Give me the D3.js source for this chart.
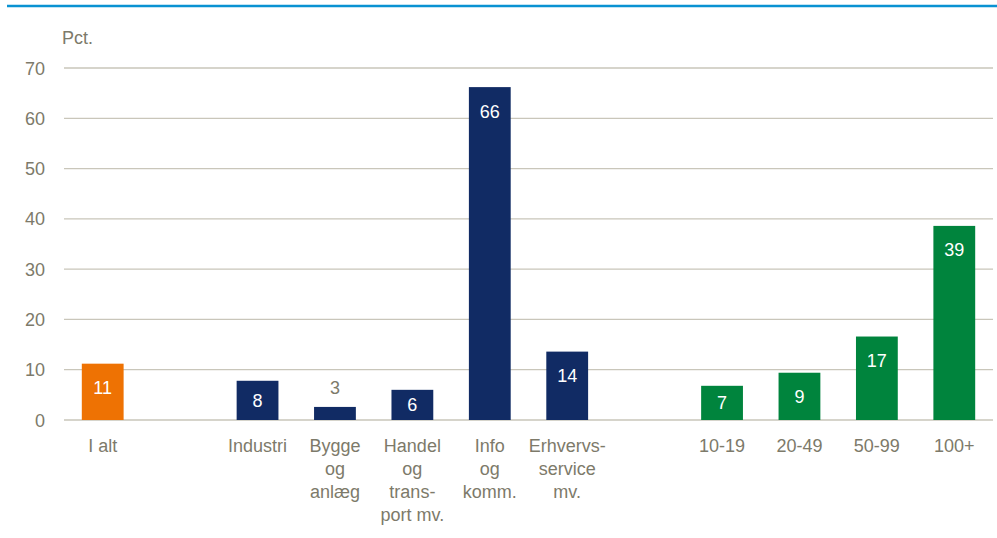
<!DOCTYPE html>
<html>
<head>
<meta charset="utf-8">
<script src="https://cdn.jsdelivr.net/npm/d3@7"></script>
<style>
  body { margin: 0; background: #fff; }
  svg text { font-family: "Liberation Sans Narrow", "Arial Narrow", "Liberation Sans", sans-serif; }
</style>
</head>
<body>
<svg id="chart" width="997" height="538"></svg>
<script>
// slots incl. empty gap slots
const slots = ['I alt', 'gap1', 'Industri', 'Bygge og anlæg', 'Handel og transport mv.', 'Info og komm.', 'Erhvervsservice mv.', 'gap2', '10-19', '20-49', '50-99', '100+'];
const categories = ['I alt', 'Industri', 'Bygge og anlæg', 'Handel og transport mv.', 'Info og komm.', 'Erhvervsservice mv.', '10-19', '20-49', '50-99', '100+'];
const labelLines = [['I alt'], ['Industri'], ['Bygge', 'og', 'anlæg'], ['Handel', 'og', 'trans-', 'port mv.'], ['Info', 'og', 'komm.'], ['Erhvervs-', 'service', 'mv.'], ['10-19'], ['20-49'], ['50-99'], ['100+']];
const values = [11.2, 7.8, 2.6, 6.0, 66.2, 13.6, 6.8, 9.4, 16.6, 38.6];
const groups = ['total', 'branche', 'branche', 'branche', 'branche', 'branche', 'size', 'size', 'size', 'size'];
const yTicks = [0, 10, 20, 30, 40, 50, 60, 70];

const colors = { total: '#ee7203', branche: '#112b64', size: '#00843d' };
const textColor = '#7d7a6a';

const svg = d3.select('#chart');

// top rule
svg.append('line')
  .attr('x1', 7).attr('x2', 997)
  .attr('y1', 6).attr('y2', 6)
  .attr('stroke', '#0a92d2').attr('stroke-width', 2.5);

const x = d3.scaleBand().domain(slots).range([64, 993]).paddingInner(0.46).paddingOuter(0.23);
const y = d3.scaleLinear().domain([0, 70]).range([420, 68]);

// grid
svg.append('g').selectAll('line')
  .data(yTicks)
  .enter().append('line')
  .attr('x1', 64).attr('x2', 993)
  .attr('y1', (d) => y(d)).attr('y2', (d) => y(d))
  .attr('stroke', '#c9c6ba').attr('stroke-width', 1.3);

svg.append('g').selectAll('text')
  .data(yTicks)
  .enter().append('text')
  .attr('x', 45)
  .attr('y', (d) => y(d) + 6.5)
  .attr('text-anchor', 'end')
  .attr('font-size', 18)
  .attr('fill', textColor)
  .text((d) => d);

svg.append('text')
  .attr('x', 62).attr('y', 44)
  .attr('font-size', 18)
  .attr('fill', textColor)
  .text('Pct.');

const data = categories.map((c, i) => ({ cat: c, value: values[i], group: groups[i], lines: labelLines[i] }));

svg.append('g').selectAll('rect')
  .data(data)
  .enter().append('rect')
  .attr('x', (d) => x(d.cat))
  .attr('y', (d) => y(d.value))
  .attr('width', x.bandwidth())
  .attr('height', (d) => y(0) - y(d.value))
  .attr('fill', (d) => colors[d.group]);

// value labels
svg.append('g').selectAll('text')
  .data(data)
  .enter().append('text')
  .attr('x', (d) => x(d.cat) + x.bandwidth() / 2)
  .attr('y', function (d) {
    const top = y(d.value), h = y(0) - top;
    if (h < 20) return top - 19 + 6.5;
    return Math.min(top + 24, top + h / 2) + 6.5;
  })
  .attr('text-anchor', 'middle')
  .attr('font-size', 18)
  .attr('fill', (d) => (y(0) - y(d.value) < 20 ? textColor : '#fff'))
  .text((d) => Math.round(d.value));

// category labels
const cl = svg.append('g').selectAll('text')
  .data(data)
  .enter().append('text')
  .attr('text-anchor', 'middle')
  .attr('font-size', 18)
  .attr('fill', textColor);

cl.selectAll('tspan')
  .data((d) => d.lines.map((l) => ({ l: l, cx: x(d.cat) + x.bandwidth() / 2 })))
  .enter().append('tspan')
  .attr('x', (d) => d.cx)
  .attr('y', (d, i) => 452 + i * 23)
  .text((d) => d.l);
</script>
</body>
</html>
